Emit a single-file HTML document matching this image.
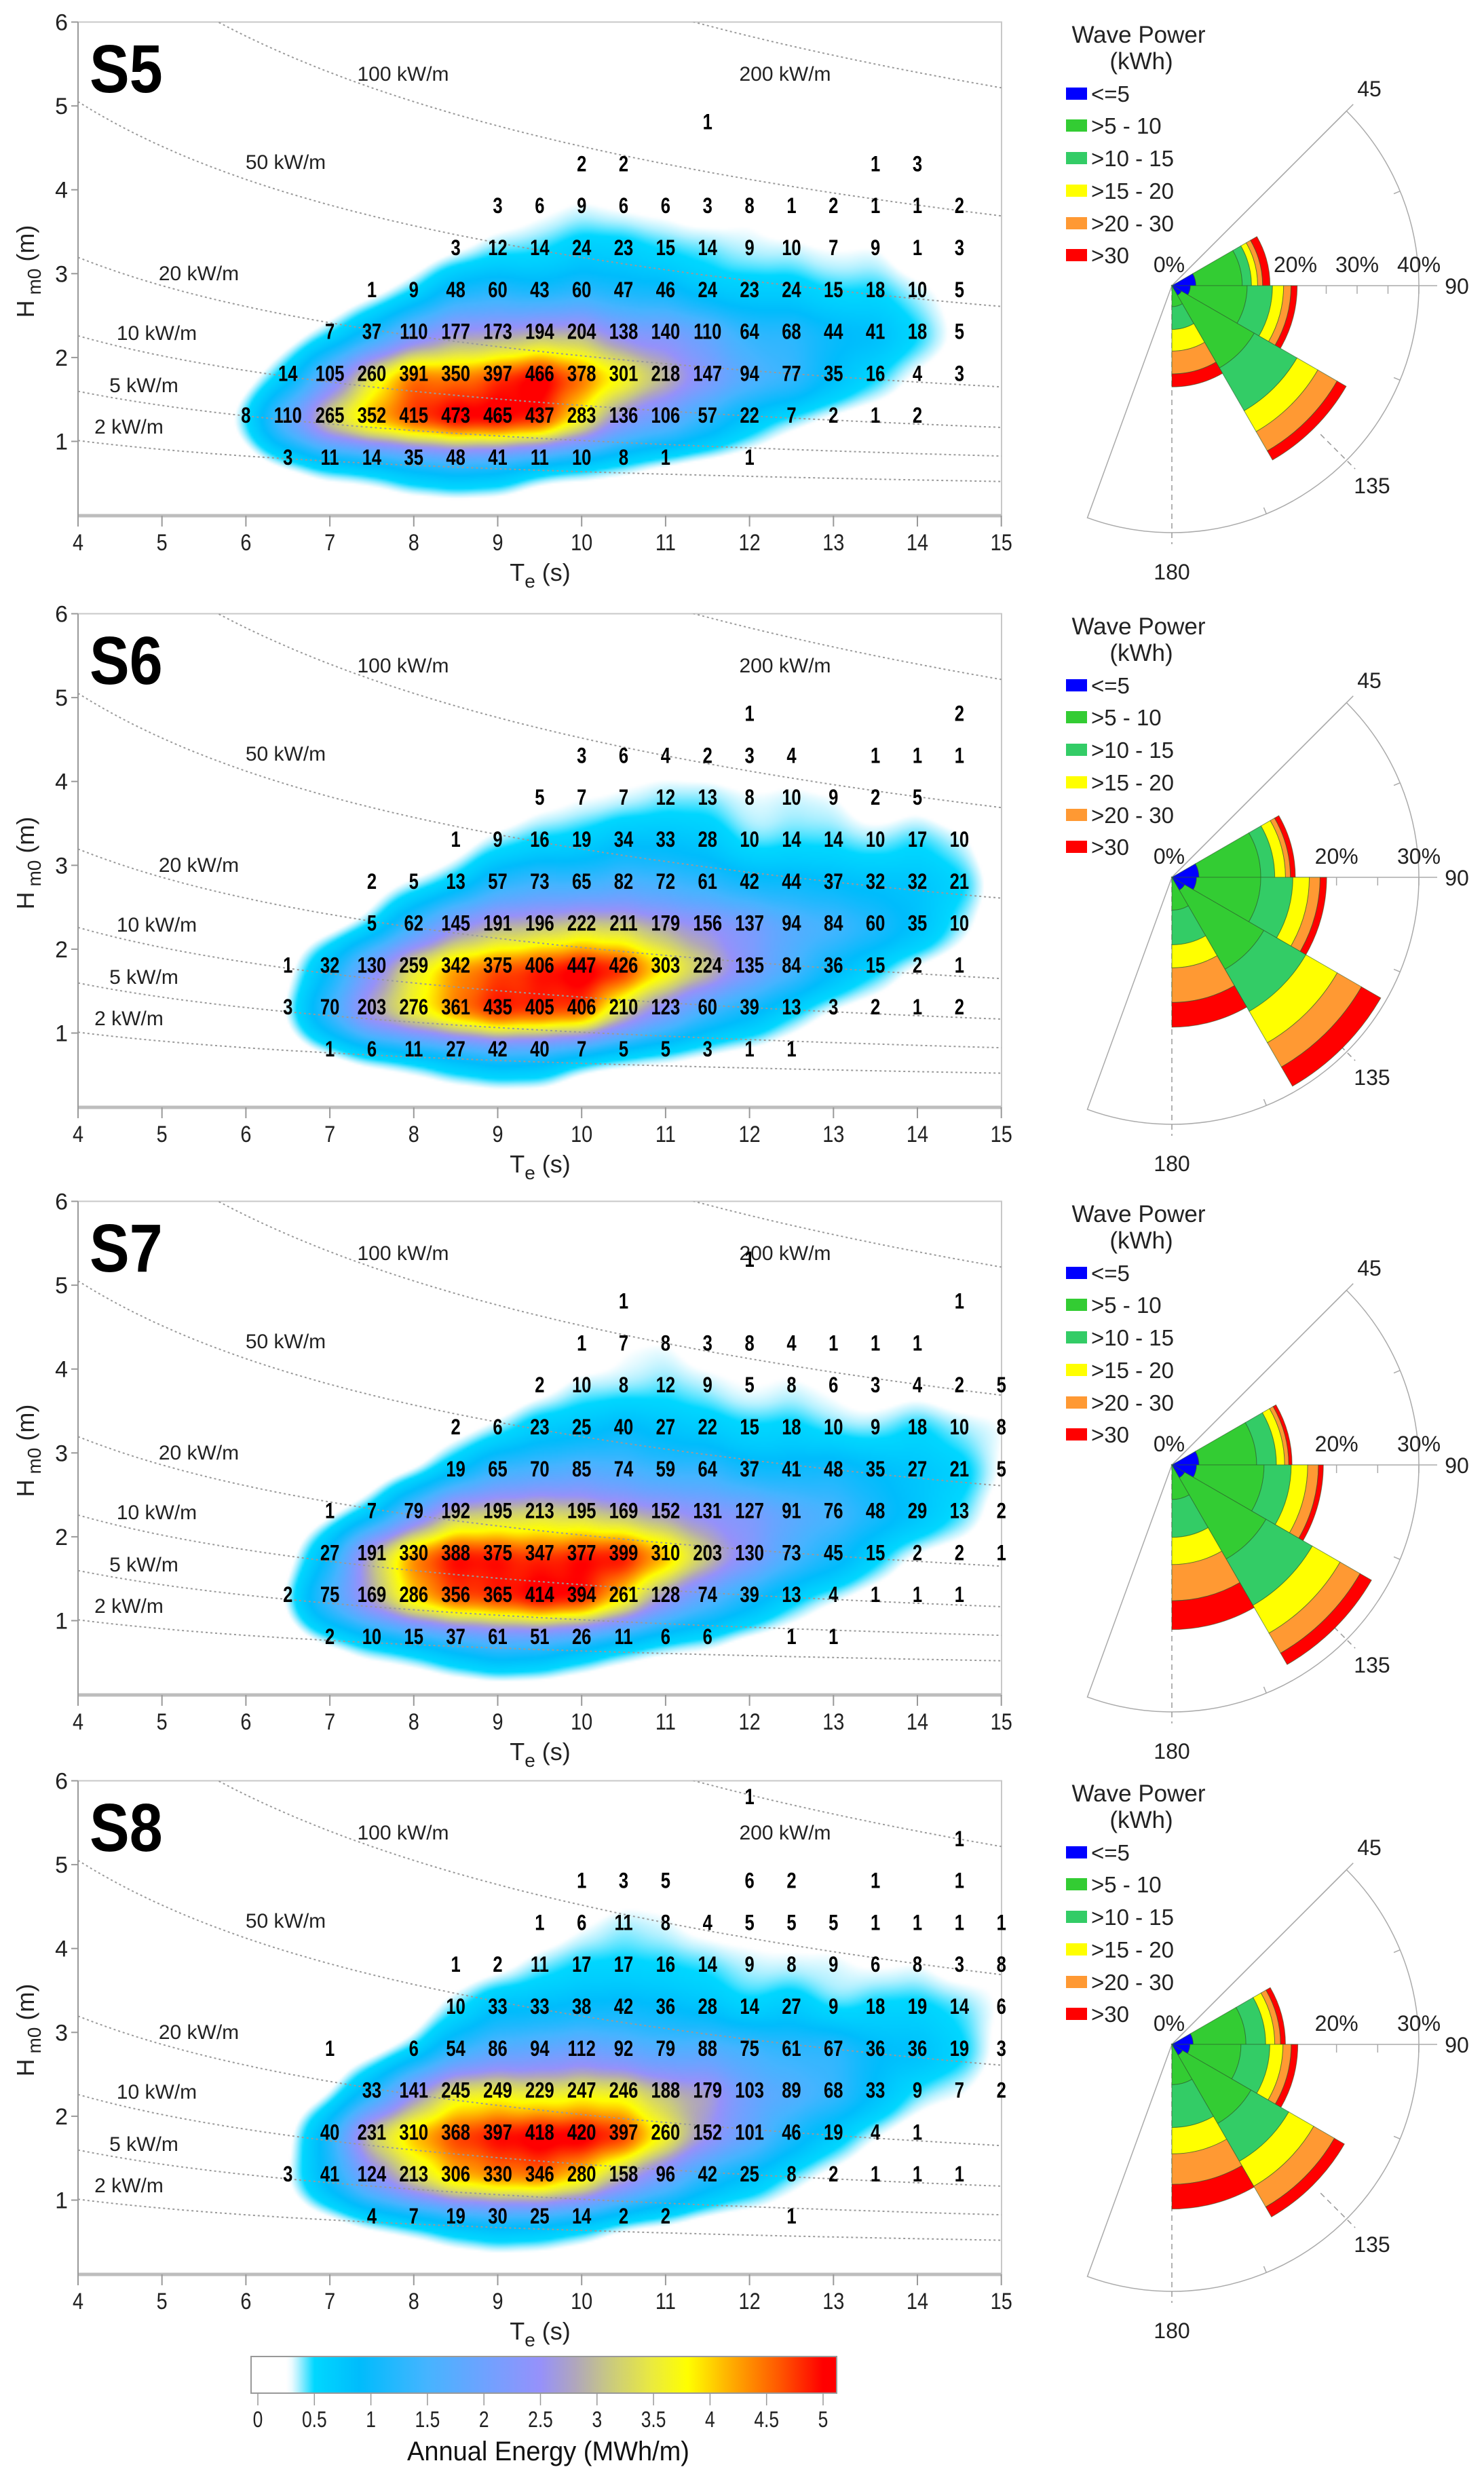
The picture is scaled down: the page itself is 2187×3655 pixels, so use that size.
<!DOCTYPE html>
<html><head><meta charset="utf-8">
<style>
html,body{margin:0;padding:0;background:#fff;}
#root{position:relative;width:2187px;height:3655px;overflow:hidden;background:#fff;}
canvas{position:absolute;}
svg{position:absolute;left:0;top:0;}
text{font-family:"Liberation Sans",sans-serif;}
</style></head>
<body>
<div id="root">
<svg id="svg" width="2187" height="3655"></svg>
</div>
<script>
// ---------- data: occurrence tables (rows from Hm0=0.75 upward, 0.5 m step; columns 0.5 s step) ----------
const panelNames = ["S5","S6","S7","S8"];
const s5Start = [6.5,6.0,6.5,7.0,7.5,8.5,9.0,10.0,11.5];
const s5Counts = [
 [3,11,14,35,48,41,11,10,8,1,null,1],
 [8,110,265,352,415,473,465,437,283,136,106,57,22,7,2,1,2],
 [14,105,260,391,350,397,466,378,301,218,147,94,77,35,16,4,3],
 [7,37,110,177,173,194,204,138,140,110,64,68,44,41,18,5],
 [1,9,48,60,43,60,47,46,24,23,24,15,18,10,5],
 [3,12,14,24,23,15,14,9,10,7,9,1,3],
 [3,6,9,6,6,3,8,1,2,1,1,2],
 [2,2,null,null,null,null,null,1,3],
 [1]
];
const s6Start = [7.0,6.5,6.5,7.5,7.5,8.5,9.5,10.0,12.0];
const s6Counts = [
 [1,6,11,27,42,40,7,5,5,3,1,1],
 [3,70,203,276,361,435,405,406,210,123,60,39,13,3,2,1,2],
 [1,32,130,259,342,375,406,447,426,303,224,135,84,36,15,2,1],
 [5,62,145,191,196,222,211,179,156,137,94,84,60,35,10],
 [2,5,13,57,73,65,82,72,61,42,44,37,32,32,21],
 [1,9,16,19,34,33,28,10,14,14,10,17,10],
 [5,7,7,12,13,8,10,9,2,5],
 [3,6,4,2,3,4,null,1,1,1],
 [1,null,null,null,null,2]
];
const s7Start = [7.0,6.5,7.0,7.0,8.5,8.5,9.5,10.0,10.5,12.0];
const s7Counts = [
 [2,10,15,37,61,51,26,11,6,6,null,1,1],
 [2,75,169,286,356,365,414,394,261,128,74,39,13,4,1,1,1],
 [27,191,330,388,375,347,377,399,310,203,130,73,45,15,2,2,1],
 [1,7,79,192,195,213,195,169,152,131,127,91,76,48,29,13,2],
 [19,65,70,85,74,59,64,37,41,48,35,27,21,5],
 [2,6,23,25,40,27,22,15,18,10,9,18,10,8],
 [2,10,8,12,9,5,8,6,3,4,2,5],
 [1,7,8,3,8,4,1,1,1],
 [1,null,null,null,null,null,null,null,1],
 [1]
];
const s8Start = [7.5,6.5,7.0,7.5,7.0,8.5,8.5,9.5,10.0,14.5,12.0];
const s8Counts = [
 [4,7,19,30,25,14,2,2,null,null,1],
 [3,41,124,213,306,330,346,280,158,96,42,25,8,2,1,1,1],
 [40,231,310,368,397,418,420,397,260,152,101,46,19,4,1],
 [33,141,245,249,229,247,246,188,179,103,89,68,33,9,7,2],
 [1,null,6,54,86,94,112,92,79,88,75,61,67,36,36,19,3],
 [10,33,33,38,42,36,28,14,27,9,18,19,14,6],
 [1,2,11,17,17,16,14,9,8,9,6,8,3,8],
 [1,6,11,8,4,5,5,5,1,1,1,1],
 [1,3,5,null,6,2,null,1,null,1],
 [1],
 [1]
];
const panelStarts = [s5Start,s6Start,s7Start,s8Start];
const panelCounts = [s5Counts,s6Counts,s7Counts,s8Counts];
// power iso-lines (kW/m)
const powerLevels = [2,5,10,20,50,100,200];
const powerLabels = ["2 kW/m","5 kW/m","10 kW/m","20 kW/m","50 kW/m","100 kW/m","200 kW/m"];
const xTicks = [4,5,6,7,8,9,10,11,12,13,14,15];
const yTicks = [1,2,3,4,5,6];
// wave rose: sector start bearings (deg), cumulative % per class [<=5, 5-10, 10-15, 15-20, 20-30, >30]
const roseSectorStart = [60,90,120,150];
const s5Rose = [[3.9,11.4,12.9,13.9,14.7,15.9],[3.0,12.2,16.3,18.1,19.3,20.3],[1.8,15.4,23.4,27.3,30.9,32.6],[0,3.4,7.1,10.6,14.3,16.4]];
const s6Rose = [[3.3,10.8,12.5,13.8,14.4,15.0],[3.0,10.8,14.7,16.7,18.0,18.8],[1.8,12.9,18.8,23.2,26.6,29.3],[0,4.0,8.2,11.0,15.2,18.2]];
const s7Rose = [[3.3,10.3,12.7,13.7,14.2,14.6],[3.0,11.2,14.5,16.5,17.8,18.4],[1.8,13.2,19.7,23.6,26.4,28.0],[0,4.2,8.8,12.1,16.5,20.0]];
const s8Rose = [[2.6,9.0,11.4,12.5,13.2,13.8],[2.2,8.4,11.9,13.5,14.5,15.3],[1.5,11.1,16.4,19.9,22.8,24.2],[0,4.9,10.1,13.3,17.0,20.0]];
const roseData = [s5Rose,s6Rose,s7Rose,s8Rose];
const roseMaxPct = [40,30,30,30];
const roseLabelPcts = [[0,20,30,40],[0,20,30],[0,20,30],[0,20,30]];
const roseClassLabels = ["<=5",">5 - 10",">10 - 15",">15 - 20",">20 - 30",">30"];
const colorbarTicks = [0,0.5,1,1.5,2,2.5,3,3.5,4,4.5,5];
</script>
<script>
const NS="http://www.w3.org/2000/svg";
const svg=document.getElementById('svg');
const root=document.getElementById('root');
const roseColors=["#0000ff","#33cc33","#33cc66","#ffff00","#ff9933","#ff0000"];
const PANEL_OFF=[0,872,1738,2592];
const X0=115,X1=1476,TOPY=32.5,BOTY=760;
function xs(T){return X0+(T-4)*123.7;}
function ys(H,off){return TOPY+(6-H)*123.6+off;}
function mk(tag,attrs,parent){const e=document.createElementNS(NS,tag);for(const k in attrs)e.setAttribute(k,attrs[k]);(parent||svg).appendChild(e);return e;}
function txt(s,x,y,attrs,parent){const e=mk('text',Object.assign({x:x,y:y},attrs||{}),parent);e.textContent=s;return e;}

const cstops=[[0,[255,255,255]],[0.28,[255,255,255]],[0.36,[175,240,255]],[0.5,[0,215,255]],[0.9,[0,188,252]],[1.5,[70,180,255]],[2.0,[110,162,255]],[2.5,[150,145,250]],[2.8,[175,165,190]],[3.1,[200,200,130]],[3.5,[235,235,60]],[3.8,[255,255,0]],[4.2,[255,170,0]],[4.6,[255,90,0]],[5.0,[255,0,0]],[6,[255,0,0]]];
function cmap(d){
  if(d<=0)return cstops[0][1];
  for(let i=1;i<cstops.length;i++){if(d<=cstops[i][0]){const a=cstops[i-1],b=cstops[i];const t=(d-a[0])/(b[0]-a[0]);return [0,1,2].map(k=>Math.round(a[1][k]+(b[1][k]-a[1][k])*t));}}
  return [255,0,0];
}

for(let p=0;p<4;p++){
  const off=PANEL_OFF[p];
  const g=mk('g',{});
  
  
  // ---- heatmap canvas ----
  const cv=document.createElement('canvas');
  const W=X1-X0, Hh=BOTY-TOPY;
  const step=3, cw=Math.ceil(W/step), ch=Math.ceil(Hh/step);
  cv.width=cw;cv.height=ch;
  cv.style.left=X0+'px';cv.style.top=(TOPY+off)+'px';cv.style.width=W+'px';cv.style.height=Hh+'px';
  
  
  root.insertBefore(cv,svg);
  const cells=[];
  const starts=panelStarts[p],counts=panelCounts[p];
  counts.forEach((row,i)=>{row.forEach((v,j)=>{if(v!=null)cells.push([starts[i]+0.5*j,0.75+0.5*i,v]);});});
  const field=new Float32Array(cw*ch);let mx=0;
  const sT=0.26,sH=0.25;
  for(let yy=0;yy<ch;yy++){const H=6-(yy*step+step/2)/123.6;
    for(let xx=0;xx<cw;xx++){const T=4+(xx*step+step/2)/123.7;let s=0;
      for(const c of cells){const dt=T-c[0],dh=H-c[1];const e=dt*dt/(2*sT*sT)+dh*dh/(2*sH*sH);if(e<9)s+=c[2]*Math.exp(-e);}
      field[yy*cw+xx]=s;if(s>mx)mx=s;}}
  const ctx=cv.getContext('2d');const img=ctx.createImageData(cw,ch);
  for(let i=0;i<cw*ch;i++){const d=5.1*Math.pow(field[i]/mx,0.72);const c=cmap(d);img.data[i*4]=c[0];img.data[i*4+1]=c[1];img.data[i*4+2]=c[2];img.data[i*4+3]=255;}
  ctx.putImageData(img,0,0);

  // ---- frame ----
  const fr=mk('rect',{x:X0,y:TOPY+off,width:X1-X0,height:BOTY-TOPY,fill:'none',stroke:'#c8c8c8','stroke-width':2},g);
  
  
  const ax=mk('line',{x1:X0,y1:BOTY+off,x2:X1,y2:BOTY+off,stroke:'#bdbdbd','stroke-width':5},g);
  
  
  const ayl=mk('line',{x1:X0,y1:TOPY+off,x2:X0,y2:BOTY+off,stroke:'#999','stroke-width':2},g);
  
  
  const cp=mk('clipPath',{id:'clip'+p},g);
  mk('rect',{x:X0,y:TOPY+off,width:X1-X0,height:BOTY-TOPY},cp);
  powerLevels.forEach((P,k)=>{
    let d='';for(let T=4;T<=15.001;T+=0.1){const H=Math.sqrt(P/(0.49*T));d+=(d?'L':'M')+xs(T).toFixed(1)+','+ys(H,off).toFixed(1);}
    const l=mk('path',{d:d,fill:'none',stroke:'#9a9a9a','stroke-width':2,'stroke-dasharray':'3,4','clip-path':'url(#clip'+p+')'},g);
    
    
  });
  const lblPosY=[[190,628],[212,567],[231,490],[293,402],[421,238],[594,108],[1157,108]];
  powerLabels.forEach((s,k)=>{
    const t=txt(s,lblPosY[k][0],lblPosY[k][1]+off+11,{'font-size':30,'text-anchor':'middle',fill:'#222'},g);
    
    
  });
  xTicks.forEach(v=>{
    const tk=mk('line',{x1:xs(v),y1:BOTY+off,x2:xs(v),y2:BOTY+off+16,stroke:'#999','stroke-width':2},g);
    
    
    const t=txt(String(v),xs(v),BOTY+off+51,{'font-size':34,'text-anchor':'middle',fill:'#222',transform:'translate('+xs(v)+',0) scale(0.85,1) translate('+(-xs(v))+',0)'},g);
    
    
  });
  yTicks.forEach(v=>{
    const tk=mk('line',{x1:X0-10,y1:ys(v,off),x2:X0,y2:ys(v,off),stroke:'#999','stroke-width':2},g);
    
    
    const t=txt(String(v),100,ys(v,off)+12,{'font-size':34,'text-anchor':'end',fill:'#222'},g);
    
    
  });
  const xt=mk('text',{x:796,y:off+856,'font-size':36,'text-anchor':'middle',fill:'#222'},g);
  xt.innerHTML='T<tspan dy="10" font-size="28">e</tspan><tspan dy="-10"> (s)</tspan>';
  
  
  const yt=mk('text',{x:0,y:0,'font-size':36,'text-anchor':'middle',fill:'#222',transform:'translate(50,'+(off+400)+') rotate(-90)'},g);
  yt.innerHTML='H<tspan dy="10" font-size="28"> m0</tspan><tspan dy="-10"> (m)</tspan>';
  
  
  const pl=txt(panelNames[p],0,off+136,{'font-size':100,'font-weight':'bold',fill:'#000',transform:'translate(132,0) scale(0.88,1)'},g);
  
  
  const cg=mk('g',{transform:'scale(0.8,1)'},g);
  counts.forEach((row,i)=>{row.forEach((v,j)=>{if(v==null)return;
    const T=starts[i]+0.5*j,H=0.75+0.5*i;
    const t=txt(String(v),xs(T)/0.8,ys(H+0.06,off)+11,{'font-size':32,'font-weight':'bold','text-anchor':'middle',fill:'#000'},cg);
    
    
  });});

  // ---- wave rose ----
  const cx=1727,cy=421+off,R=364,sc=R/roseMaxPct[p];
  const rg=mk('g',{},g);
  
  
  function pt(r,b){const a=b*Math.PI/180;return [cx+r*Math.sin(a),cy-r*Math.cos(a)];}
  const a=pt(R,45),b=pt(R,200);
  const of=mk('path',{d:'M'+cx+','+cy+'L'+a[0]+','+a[1]+'A'+R+','+R+' 0 0 1 '+b[0]+','+b[1]+'Z',fill:'none',stroke:'#aaa','stroke-width':1.5},rg);
  
  
  const l45=pt(378,45);
  const ln45=mk('line',{x1:cx,y1:cy,x2:l45[0],y2:l45[1],stroke:'#aaa','stroke-width':1.5},rg);
  
  
  const ln90=mk('line',{x1:cx,y1:cy,x2:cx+391,y2:cy,stroke:'#aaa','stroke-width':1.5},rg);
  
  
  const ln180=mk('line',{x1:cx,y1:cy,x2:cx,y2:cy+381,stroke:'#999','stroke-width':1.5,'stroke-dasharray':'8,6'},rg);
  
  
  const p1=pt(310,135),p2=pt(382,135);
  const ln135=mk('line',{x1:p1[0],y1:p1[1],x2:p2[0],y2:p2[1],stroke:'#999','stroke-width':1.5,'stroke-dasharray':'8,6'},rg);
  
  
  [67.5,112.5,157.5].forEach(bb=>{const q1=pt(R-10,bb),q2=pt(R,bb);
    const tk=mk('line',{x1:q1[0],y1:q1[1],x2:q2[0],y2:q2[1],stroke:'#aaa','stroke-width':1.5},rg);
    
    });
  for(let v=5;v<=roseMaxPct[p];v+=5){
    const tk=mk('line',{x1:cx+v*sc,y1:cy,x2:cx+v*sc,y2:cy+12,stroke:'#aaa','stroke-width':1.5},rg);
    
    
  }
  roseData[p].forEach((cum,si)=>{
    const b0=roseSectorStart[si],b1=b0+30;let prev=0;
    cum.forEach((v,ci)=>{
      if(v<=prev)return;
      const r0=prev*sc,r1=v*sc;
      const A=pt(r1,b0),B=pt(r1,b1),C=pt(r0,b1),D=pt(r0,b0);
      let d='M'+A[0]+','+A[1]+'A'+r1+','+r1+' 0 0 1 '+B[0]+','+B[1]+'L'+C[0]+','+C[1];
      if(r0>0)d+='A'+r0+','+r0+' 0 0 0 '+D[0]+','+D[1];
      d+='Z';
      const s=mk('path',{d:d,fill:roseColors[ci],stroke:'#2a5a2a','stroke-width':1,'stroke-opacity':0.6},rg);
      
      
      prev=v;
    });
  });
  roseLabelPcts[p].forEach(v=>{
    const t=txt(v+'%',cx+v*sc-(v===0?4:0),cy-20,{'font-size':32,'text-anchor':'middle',fill:'#222'},rg);
    
    
  });
  const dirLbl=[["45",2018-1727,130-421],["90",2147-1727,0],["135",2022-1727,715-421],["180",0,842-421]];
  dirLbl.forEach(dl=>{
    const t=txt(dl[0],cx+dl[1],cy+dl[2]+12,{'font-size':32,'text-anchor':'middle',fill:'#222'},rg);
    
    
  });
  const lg=mk('g',{},g);
  
  
  const lt1=txt('Wave Power',1678,off+63,{'font-size':35,'text-anchor':'middle',fill:'#222'},lg);
  
  
  const lt2=txt('(kWh)',1682,off+102,{'font-size':35,'text-anchor':'middle',fill:'#222'},lg);
  
  
  const ly=[138,185,233,281,329,376];
  roseClassLabels.forEach((s,k)=>{
    const r=mk('rect',{x:1571,y:off+ly[k]-9,width:31,height:18,fill:roseColors[k]},lg);
    
    
    const t=txt(s,1608,off+ly[k]+12,{'font-size':33,fill:'#222'},lg);
    
    
  });
}

// ---------- colorbar ----------
const CB0=380,CB1=1213,CBY=3473,CBH=54;
function cbx(v){return CB0+(v/5)*(CB1-CB0);}
const defs=mk('defs',{});
const grad=mk('linearGradient',{id:'cbgrad',x1:0,x2:1,y1:0,y2:0},defs);
for(let v=0;v<=5.12;v+=0.05){const c=cmap(v);mk('stop',{offset:((cbx(v)-370)/(1233-370)).toFixed(4),'stop-color':'rgb('+c.join(',')+')'},grad);}
const cbr=mk('rect',{x:370,y:CBY,width:863,height:CBH,fill:'url(#cbgrad)',stroke:'#999','stroke-width':2});


const cbg=mk('g',{});


colorbarTicks.forEach(v=>{
  const tk=mk('line',{x1:cbx(v),y1:CBY+CBH,x2:cbx(v),y2:CBY+CBH+18,stroke:'#999','stroke-width':1.5},cbg);
  
  
  const t=txt(String(v),0,3577,{'font-size':33,'text-anchor':'middle',fill:'#222',transform:'translate('+cbx(v)+',0) scale(0.8,1)'},cbg);
  
  
});
const cbt=txt('Annual Energy (MWh/m)',0,3626,{'font-size':40,'text-anchor':'middle',fill:'#111',transform:'translate(808,0) scale(0.95,1)'});


</script>
</body></html>
